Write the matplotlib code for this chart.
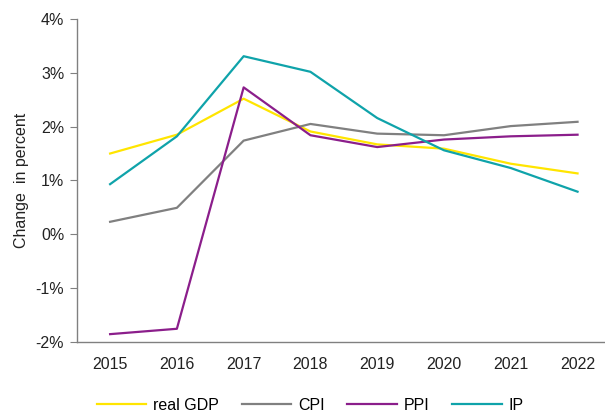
import matplotlib
matplotlib.use('Agg')
import matplotlib.pyplot as plt
from matplotlib.ticker import FuncFormatter

plt.rcParams['font.family'] = ['Liberation Sans', 'DejaVu Sans']

# data
years = ['2015', '2016', '2017', '2018', '2019', '2020', '2021', '2022']
real_gdp = [1.50, 1.85, 2.52, 1.91, 1.67, 1.59, 1.31, 1.13]
cpi = [0.23, 0.49, 1.74, 2.05, 1.87, 1.84, 2.01, 2.09]
ppi = [-1.86, -1.76, 2.73, 1.84, 1.62, 1.76, 1.82, 1.85]
ip = [0.93, 1.82, 3.31, 3.02, 2.16, 1.56, 1.23, 0.79]

series = [('real GDP', real_gdp, '#FFE500'),
          ('CPI', cpi, '#808080'),
          ('PPI', ppi, '#8B1E8B'),
          ('IP', ip, '#0FA3AA')]

fig = plt.figure(figsize=(6.05, 4.13), dpi=100)
ax = fig.add_axes([0.1268, 0.1727, 0.883, 0.781])

x = range(len(years))
for name, vals, col in series:
    ax.plot(x, vals, color=col, lw=1.6, label=name)

ax.set_xlim(-0.5, len(years) - 0.5)
ax.set_ylim(-2, 4)
ax.set_xticks(list(x))
ax.set_xticklabels(years)
ax.yaxis.set_major_formatter(FuncFormatter(lambda v, p: '%d%%' % v))

for s in ['top', 'right']:
    ax.spines[s].set_visible(False)
for s in ['left', 'bottom']:
    ax.spines[s].set_color('#808080')
    ax.spines[s].set_linewidth(1.0)
ax.tick_params(axis='x', length=0, pad=11, labelsize=11.5, colors='#222222')
ax.tick_params(axis='y', length=5, color='#808080', pad=4, labelsize=11.5, labelcolor='#222222')
ax.set_ylabel('Change  in percent', fontsize=11.5, color='#222222', labelpad=5)

fig.legend(loc='center', bbox_to_anchor=(0.513, 0.018), ncol=4, frameon=False,
           fontsize=11.5, handlelength=3.1, columnspacing=1.4, handletextpad=0.45)

plt.savefig('out.png', dpi=100)
plt.close()
